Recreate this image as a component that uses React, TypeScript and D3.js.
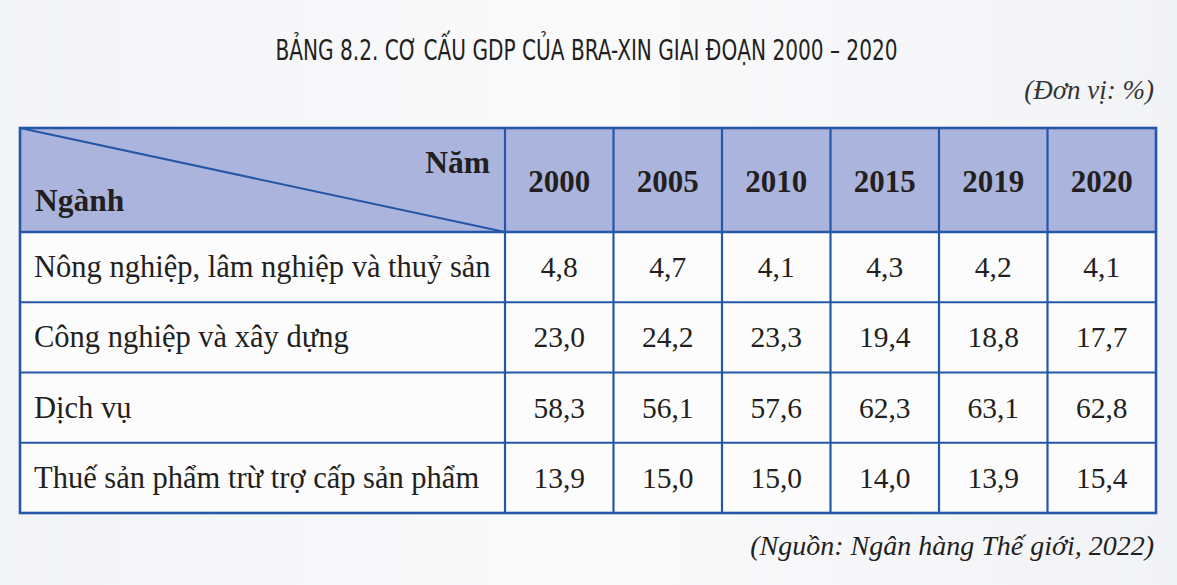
import React from "react";
import * as d3 from "d3";

const title = "BẢNG 8.2. CƠ CẤU GDP CỦA BRA-XIN GIAI ĐOẠN 2000 – 2020";
const unitNote = "(Đơn vị: %)";
const sourceNote = "(Nguồn: Ngân hàng Thế giới, 2022)";
const years = ["2000", "2005", "2010", "2015", "2019", "2020"];
const sectors = [
  "Nông nghiệp, lâm nghiệp và thuỷ sản",
  "Công nghiệp và xây dựng",
  "Dịch vụ",
  "Thuế sản phẩm trừ trợ cấp sản phẩm",
];
const agriculture = ["4,8", "4,7", "4,1", "4,3", "4,2", "4,1"];
const industry = ["23,0", "24,2", "23,3", "19,4", "18,8", "17,7"];
const services = ["58,3", "56,1", "57,6", "62,3", "63,1", "62,8"];
const taxes = ["13,9", "15,0", "15,0", "14,0", "13,9", "15,4"];
const rowValues = [agriculture, industry, services, taxes];

const W = 1177;
const H = 585;
const left = 20;
const firstColRight = 505;
const right = 1156;
const top = 128;
const headerBottom = 232;
const bottom = 513;
const border = "#2457a8";
const headerFill = "#abb4dc";
const ink = "#231f20";
const serifStyle = { fontFamily: "Liberation Serif" };

export default function App() {
  const x = d3.scaleBand().domain(years).range([firstColRight, right]);
  const y = d3.scaleBand().domain(sectors).range([headerBottom, bottom]);
  const bw = x.bandwidth();
  const bh = y.bandwidth();

  return (
    <svg width={W} height={H} style={{ position: "absolute", left: 0, top: 0, fontFamily: "Liberation Serif" }}>
      <defs>
        <linearGradient id="bg" x1="0" y1="0" x2="1" y2="0">
          <stop offset="0" stopColor="#f3f4f7" />
          <stop offset="0.5" stopColor="#fafafb" />
          <stop offset="1" stopColor="#f2f3f6" />
        </linearGradient>
      </defs>
      <rect x={0} y={0} width={W} height={H} fill="url(#bg)" />
      <text
        x={W / 2 - 2}
        y={60}
        textAnchor="middle"
        style={{ fontFamily: "DejaVu Sans Condensed", fontSize: 28 }}
        fill={ink}
        textLength={622}
        lengthAdjust="spacingAndGlyphs"
      >
        {title}
      </text>
      <text x={1154} y={99} textAnchor="end" style={{ ...serifStyle, fontStyle: "italic", fontSize: 27 }} fill="#333">
        {unitNote}
      </text>

      <rect x={left} y={top} width={right - left} height={headerBottom - top} fill={headerFill} />
      <rect x={left} y={headerBottom} width={right - left} height={bottom - headerBottom} fill="#fcfcfd" />

      <line x1={left} y1={top} x2={firstColRight} y2={headerBottom} stroke={border} strokeWidth={2} />
      <text x={490} y={173} textAnchor="end" style={{ ...serifStyle, fontWeight: "bold", fontSize: 31.5 }} fill={ink}>
        Năm
      </text>
      <text x={35} y={211} style={{ ...serifStyle, fontWeight: "bold", fontSize: 31.5 }} fill={ink}>
        Ngành
      </text>

      {years.map((yr) => (
        <text
          key={yr}
          x={(x(yr) as number) + bw / 2}
          y={192}
          textAnchor="middle"
          style={{ ...serifStyle, fontWeight: "bold", fontSize: 31 }}
          fill={ink}
        >
          {yr}
        </text>
      ))}

      {sectors.map((s, i) => (
        <g key={s}>
          <text x={34} y={(y(s) as number) + bh / 2 + 10} style={{ ...serifStyle, fontSize: 30.5 }} fill={ink}>
            {s}
          </text>
          {years.map((yr, j) => (
            <text
              key={yr}
              x={(x(yr) as number) + bw / 2}
              y={(y(s) as number) + bh / 2 + 10}
              textAnchor="middle"
              style={{ ...serifStyle, fontSize: 29.5 }}
              fill={ink}
            >
              {rowValues[i][j]}
            </text>
          ))}
        </g>
      ))}

      <g stroke={border} strokeWidth={2.2} fill="none">
        <rect x={left} y={top} width={right - left} height={bottom - top} strokeWidth={2.6} />
        <line x1={left} x2={right} y1={headerBottom} y2={headerBottom} strokeWidth={2.6} />
        {sectors.slice(1).map((s) => (
          <line key={s} x1={left} x2={right} y1={y(s) as number} y2={y(s) as number} />
        ))}
        <line x1={firstColRight} x2={firstColRight} y1={top} y2={bottom} />
        {years.slice(1).map((yr) => (
          <line key={yr} x1={x(yr) as number} x2={x(yr) as number} y1={top} y2={bottom} />
        ))}
      </g>

      <text x={1154} y={555} textAnchor="end" style={{ ...serifStyle, fontStyle: "italic", fontSize: 28 }} fill={ink}>
        {sourceNote}
      </text>
    </svg>
  );
}
